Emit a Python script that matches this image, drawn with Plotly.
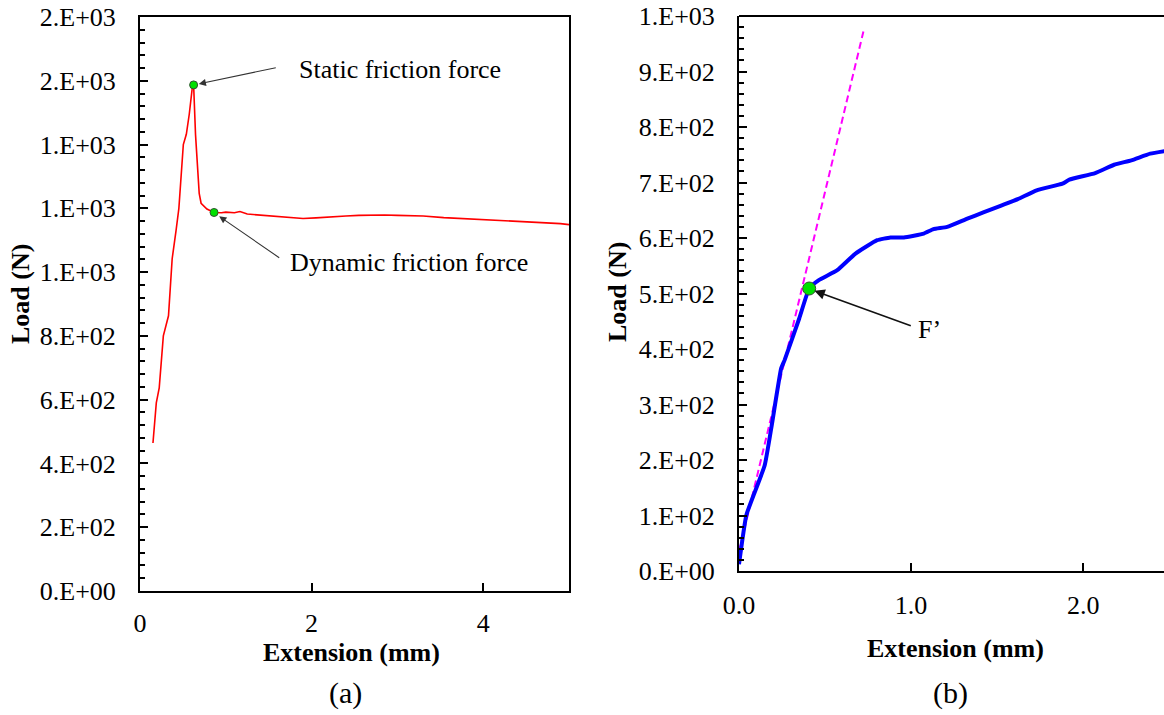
import plotly.graph_objects as go

# Panel (a): friction test, load vs extension
ext_a = [0.151, 0.165, 0.173, 0.19, 0.224, 0.259, 0.272, 0.332, 0.375, 0.42, 0.453,
         0.505, 0.54, 0.574, 0.61, 0.625, 0.647, 0.69, 0.712, 0.78, 0.863,
         0.95, 1.0, 1.1, 1.165, 1.25, 1.38, 1.5, 1.6, 1.75, 1.9, 2.05, 2.24, 2.4,
         2.55, 2.68, 2.85, 3.0, 3.1, 3.3, 3.54, 3.75, 3.97, 4.2, 4.4, 4.6, 4.74,
         4.9, 5.0]
load_a = [464, 520, 553, 590, 637, 758, 800, 863, 1042, 1130, 1200,
          1400, 1432, 1495, 1580, 1587, 1432, 1247, 1216, 1198, 1187,
          1186, 1188, 1186, 1190, 1182, 1179, 1178, 1176, 1172, 1168, 1170, 1174, 1176,
          1178, 1179, 1179, 1178, 1177, 1176, 1171, 1168, 1165, 1163, 1161, 1158, 1156,
          1152, 1149]
static_pt = (0.625, 1587)
dynamic_pt = (0.863, 1187)

# Panel (b): load vs extension with initial tangent
ext_b = [0.0, 0.043, 0.149, 0.19, 0.245, 0.265, 0.35, 0.408, 0.464, 0.571,
         0.677, 0.803, 0.88, 0.958, 1.074, 1.13, 1.21, 1.327, 1.42, 1.52, 1.62,
         1.73, 1.88, 1.92, 2.07, 2.18, 2.28, 2.39, 2.5]
load_b = [12, 101, 190, 262, 365, 380, 455, 509, 524, 542,
          572, 596, 601, 601, 608, 616, 620, 635, 646, 658, 670,
          686, 698, 705, 717, 732, 740, 752, 758]
tangent_x = [0.0, 0.723]
tangent_y = [35, 972]
fprime_pt = (0.408, 509)

ticks_a = [0, 200, 400, 600, 800, 1000, 1200, 1400, 1600, 1800]
ticklabels_a = ["0.E+00", "2.E+02", "4.E+02", "6.E+02", "8.E+02",
                "1.E+03", "1.E+03", "1.E+03", "2.E+03", "2.E+03"]
ticks_b = [0, 100, 200, 300, 400, 500, 600, 700, 800, 900, 1000]
ticklabels_b = ["0.E+00", "1.E+02", "2.E+02", "3.E+02", "4.E+02", "5.E+02",
                "6.E+02", "7.E+02", "8.E+02", "9.E+02", "1.E+03"]
xticks_a = [0, 2, 4]
xticks_b = [0.0, 1.0, 2.0]
xticklabels_b = ["0.0", "1.0", "2.0"]

FONT = "Liberation Serif"
W, H = 1164, 715

fig = go.Figure()

fig.add_trace(go.Scatter(x=ext_a, y=load_a, mode="lines",
                         line=dict(color="#FF0000", width=1.6),
                         xaxis="x", yaxis="y", showlegend=False))
fig.add_trace(go.Scatter(x=[static_pt[0], dynamic_pt[0]], y=[static_pt[1], dynamic_pt[1]],
                         mode="markers",
                         marker=dict(color="#00E000", size=8, line=dict(color="#305030", width=1)),
                         xaxis="x", yaxis="y", showlegend=False))

fig.add_trace(go.Scatter(x=tangent_x, y=tangent_y, mode="lines",
                         line=dict(color="#FF00FF", width=2, dash="7px,4px"),
                         xaxis="x2", yaxis="y2", showlegend=False))
fig.add_trace(go.Scatter(x=ext_b, y=load_b, mode="lines",
                         line=dict(color="#0000FF", width=4, shape="spline", smoothing=0.4),
                         xaxis="x2", yaxis="y2", showlegend=False))
fig.add_trace(go.Scatter(x=[fprime_pt[0]], y=[fprime_pt[1]], mode="markers",
                         marker=dict(color="#00E000", size=13, line=dict(color="#305030", width=1)),
                         xaxis="x2", yaxis="y2", showlegend=False))

tickfont = dict(family=FONT, size=26, color="black")
ax_common = dict(showline=True, linecolor="black", linewidth=2, ticks="inside",
                 tickcolor="black", tickwidth=2, ticklen=8, showgrid=False,
                 zeroline=False, tickfont=tickfont, automargin=False)

dom_a_x = [140 / W, 569 / W]
dom_a_y = [(H - 591) / H, (H - 17) / H]
dom_b_x = [739 / W, 1.0]
dom_b_y = [(H - 571) / H, (H - 16) / H]

fig.update_layout(
    width=W, height=H, margin=dict(l=0, r=0, t=0, b=0, pad=0, autoexpand=False),
    paper_bgcolor="white", plot_bgcolor="white",
    xaxis=dict(domain=dom_a_x, range=[0, 5], tickvals=xticks_a, mirror=True,
               anchor="y", ticklabelstandoff=8, **ax_common),
    yaxis=dict(domain=dom_a_y, range=[0, 1800], tickvals=ticks_a, ticktext=ticklabels_a,
               mirror=True, anchor="x", ticklabelstandoff=17,
               minor=dict(dtick=40, ticks="inside", ticklen=5, tickcolor="black", tickwidth=1.5),
               **ax_common),
    xaxis2=dict(domain=dom_b_x, range=[0, 2.47], tickvals=xticks_b, ticktext=xticklabels_b,
                anchor="y2", ticklabelstandoff=10, **ax_common),
    yaxis2=dict(domain=dom_b_y, range=[0, 1000], tickvals=ticks_b, ticktext=ticklabels_b,
                anchor="x2", ticklabelstandoff=17,
                minor=dict(dtick=20, ticks="inside", ticklen=5, tickcolor="black", tickwidth=1.5),
                **ax_common),
)

# top border of panel (b)
fig.add_shape(type="line", xref="paper", yref="paper",
              x0=dom_b_x[0], x1=1.0, y0=dom_b_y[1], y1=dom_b_y[1],
              line=dict(color="black", width=2))

txt = dict(family=FONT, size=26, color="black")
bold = dict(family=FONT, size=26, color="black", weight="bold")
centered = dict(xref="paper", yref="paper", showarrow=False,
                xanchor="center", yanchor="middle")

annotations = [
    # arrows
    dict(x=static_pt[0] + 0.06, y=static_pt[1] + 3, ax=1.6, ay=1642, xref="x", yref="y",
         axref="x", ayref="y", text="", showarrow=True, arrowhead=2, arrowsize=1.3,
         arrowwidth=1.1, arrowcolor="#333333"),
    dict(x=dynamic_pt[0] + 0.06, y=dynamic_pt[1] - 12, ax=1.64, ay=1042, xref="x", yref="y",
         axref="x", ayref="y", text="", showarrow=True, arrowhead=2, arrowsize=1.3,
         arrowwidth=1.1, arrowcolor="#333333"),
    dict(x=fprime_pt[0] + 0.03, y=fprime_pt[1] - 4, ax=1.007, ay=441, xref="x2", yref="y2",
         axref="x2", ayref="y2", text="", showarrow=True, arrowhead=2, arrowsize=1.3,
         arrowwidth=1.6, arrowcolor="#111111"),
    # labels
    dict(x=1.83, y=1634, xref="x", yref="y", text="Static friction force",
         showarrow=False, xanchor="left", font=txt),
    dict(x=1.72, y=1030, xref="x", yref="y", text="Dynamic friction force",
         showarrow=False, xanchor="left", font=txt),
    dict(x=1.026, y=436, xref="x2", yref="y2", text="F\u2019",
         showarrow=False, xanchor="left", font=txt),
    # axis titles
    dict(x=351 / W, y=(H - 652) / H, text="Extension (mm)", font=bold, **centered),
    dict(x=955 / W, y=(H - 648) / H, text="Extension (mm)", font=bold, **centered),
    dict(x=20 / W, y=(H - 294) / H, text="Load (N)", textangle=-90, font=bold, **centered),
    dict(x=617 / W, y=(H - 292) / H, text="Load (N)", textangle=-90, font=bold, **centered),
    # panel labels
    dict(x=345 / W, y=(H - 693) / H, text="(a)",
         font=dict(family=FONT, size=30, color="black"), **centered),
    dict(x=950 / W, y=(H - 693) / H, text="(b)",
         font=dict(family=FONT, size=30, color="black"), **centered),
]
fig.update_layout(annotations=annotations)

fig.write_html("out.html")
